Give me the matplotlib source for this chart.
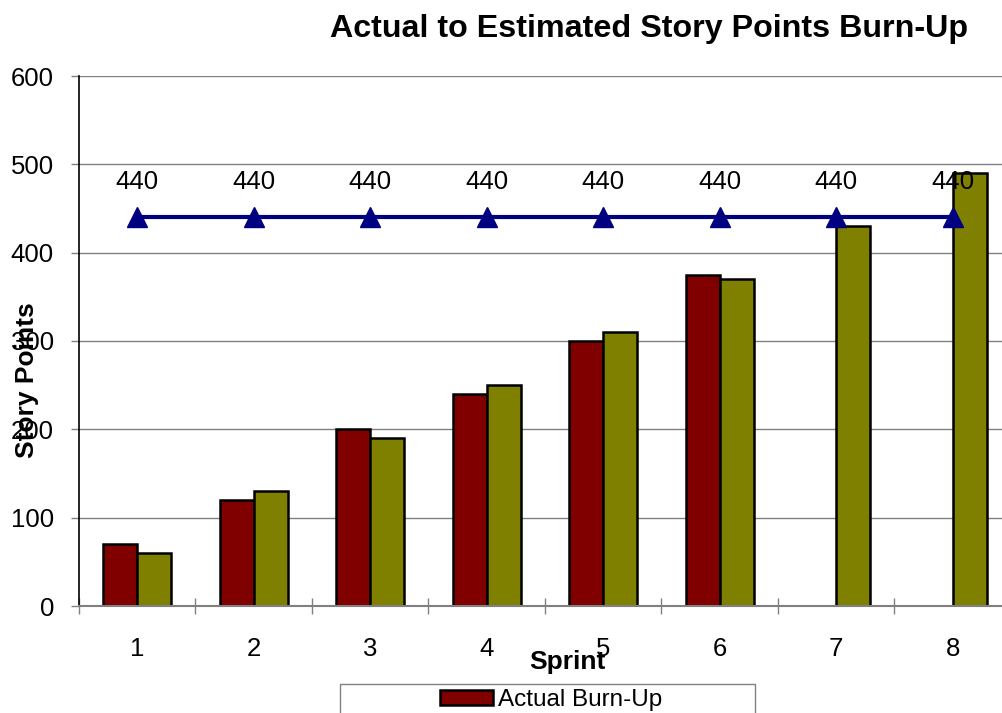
import matplotlib
matplotlib.use("Agg")
import matplotlib.pyplot as plt
from matplotlib.patches import Rectangle
import numpy as np

plt.rcParams['font.family'] = ['Liberation Sans', 'DejaVu Sans']

sprints = [1, 2, 3, 4, 5, 6, 7, 8]
actual = [70, 120, 200, 240, 300, 375, None, None]
estimated = [60, 130, 190, 250, 310, 370, 430, 490]
total = [440, 440, 440, 440, 440, 440, 440, 440]
yticks = [0, 100, 200, 300, 400, 500, 600]

fig = plt.figure(figsize=(10.03, 7.13), dpi=100)
ax = fig.add_axes([79 / 1003, 1 - 606 / 713, 932 / 1003, 530 / 713])

x = np.array(sprints)
w = 0.29
act_x = [s for s, v in zip(sprints, actual) if v is not None]
act_v = [v for v in actual if v is not None]
b1 = ax.bar(np.array(act_x) - w / 2, act_v, w, color='#800000', edgecolor='black',
            linewidth=1.8, zorder=2, label='Actual Burn-Up')
b2 = ax.bar(x + w / 2, estimated, w, color='#808000', edgecolor='black',
            linewidth=1.8, zorder=2, label='Estimated Burn-Up')
ax.plot(x, total, color='#000080', linewidth=3, marker='^', markersize=14,
        zorder=3, clip_on=False)
for s, v in zip(sprints, total):
    ax.annotate(str(v), (s, v), xytext=(0, 17), textcoords='offset points',
                ha='center', va='bottom', fontsize=18.5, zorder=4)

ax.set_xlim(0.5, 8.5)
ax.set_ylim(0, 600)
ax.set_yticks(yticks)
ax.set_xticks(sprints)
ax.set_xticks(np.arange(0.5, 9, 1), minor=True)
ax.tick_params(axis='y', direction='out', length=6, width=1, color='#808080',
               labelsize=18.5, pad=12)
ax.tick_params(axis='x', which='major', length=0, labelsize=18.5, pad=22)
ax.tick_params(axis='x', which='minor', direction='inout', length=12, width=1,
               color='#808080')
ax.grid(axis='y', color='#808080', linewidth=1, zorder=0)
ax.set_axisbelow(True)
for sp in ['top', 'right']:
    ax.spines[sp].set_visible(False)
ax.spines['left'].set_linewidth(1.2)
ax.spines['bottom'].set_color('#808080')
ax.spines['bottom'].set_linewidth(1.5)

fig.text(649 / 1003, 1 - 29 / 713, 'Actual to Estimated Story Points Burn-Up',
         ha='center', va='center', fontsize=23.2, fontweight='bold')
fig.text(27 / 1003, 1 - 380 / 713, 'Story Points', ha='center', va='center',
         rotation=90, fontsize=19, fontweight='bold')
fig.text(567 / 1003, 1 - 662 / 713, 'Sprint', ha='center', va='center',
         fontsize=19, fontweight='bold')

fig.patches.append(Rectangle((340 / 1003, -0.05), 415 / 1003, 0.05 + 1 - 684 / 713,
                             transform=fig.transFigure, facecolor='white',
                             edgecolor='#808080', linewidth=1))
fig.legend(handles=[b1], loc='center', bbox_to_anchor=(551 / 1003, 1 - 700 / 713),
           frameon=False, fontsize=17.5, handlelength=2.2, handleheight=0.55,
           handletextpad=0.2, borderpad=0)

fig.savefig('out.png', dpi=100)
